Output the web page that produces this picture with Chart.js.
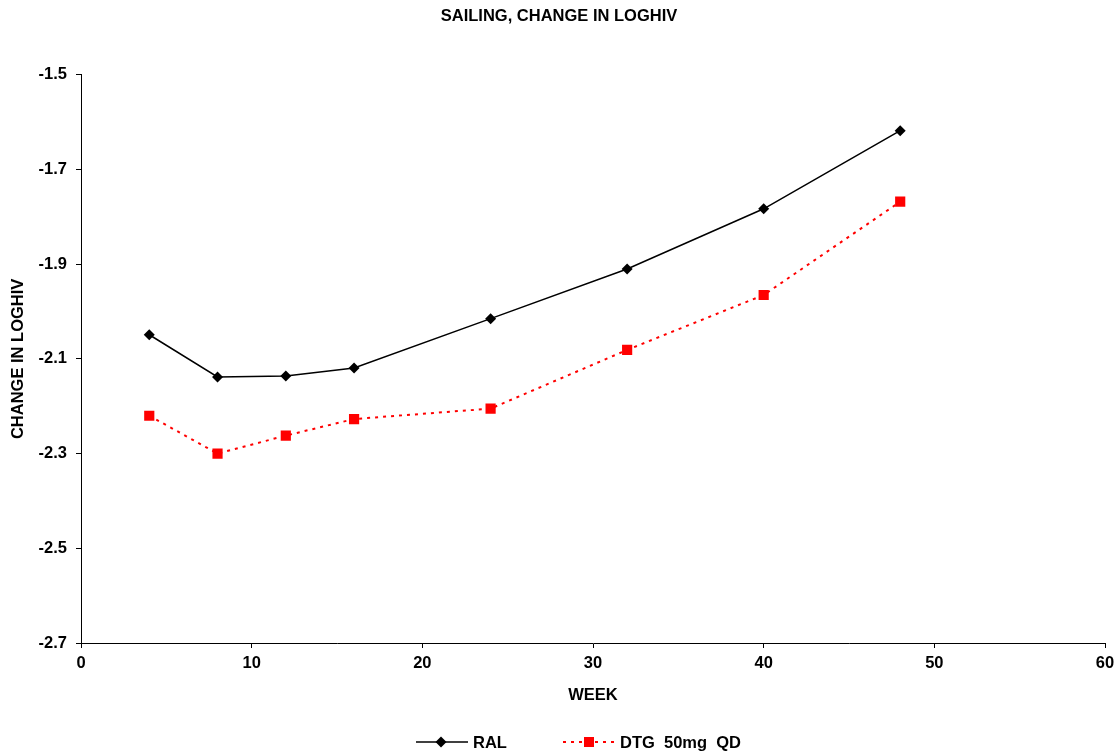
<!DOCTYPE html>
<html>
<head>
<meta charset="utf-8">
<script src="https://cdn.jsdelivr.net/npm/chart.js@4/dist/chart.umd.min.js"></script>
<style>
  html, body { margin: 0; padding: 0; background: #fff; }
  #wrap { position: relative; width: 1118px; height: 754px; }
  #c { position: absolute; left: 0; top: 0; }
  .leg { position: absolute; top: 731px; height: 22px; display: flex; align-items: center;
         font: bold 16.5px "Liberation Sans", Arial, sans-serif; color: #000; white-space: pre; }
  .leg svg { margin-right: 5px; }
</style>
</head>
<body>
<div id="wrap">
  <canvas id="c" width="1118" height="754"></canvas>
  <div class="leg" style="left:416px;">
    <svg width="52" height="22"><line x1="0" y1="11" x2="52" y2="11" stroke="#000" stroke-width="1.5"/><polygon points="25,5.5 30.5,11 25,16.5 19.5,11" fill="#000"/></svg><span>RAL</span>
  </div>
  <div class="leg" style="left:563px;">
    <svg width="52" height="22"><line x1="0" y1="11" x2="52" y2="11" stroke="#f00" stroke-width="2" stroke-dasharray="3,5"/><rect x="21" y="6" width="10" height="10" fill="#f00"/></svg><span>DTG  50mg  QD</span>
  </div>
</div>
<script>
const weeks = [4, 8, 12, 16, 24, 32, 40, 48];
const ralValues = [-2.049, -2.138, -2.136, -2.119, -2.015, -1.910, -1.783, -1.618];
const dtgValues = [-2.220, -2.300, -2.262, -2.227, -2.205, -2.081, -1.965, -1.768];
const xTicks = [0, 10, 20, 30, 40, 50, 60];
const yTicks = [-2.7, -2.5, -2.3, -2.1, -1.9, -1.7, -1.5];

const FONT = '"Liberation Sans", Arial, sans-serif';
const FS = 16.5;
const pts = (vals) => weeks.map((w, i) => ({ x: w, y: vals[i] }));

new Chart(document.getElementById('c'), {
  type: 'line',
  data: {
    datasets: [
      {
        label: 'RAL',
        data: pts(ralValues),
        borderColor: '#000',
        backgroundColor: '#000',
        borderWidth: 1.5,
        pointStyle: 'rectRot',
        pointRadius: 5.5,
        pointBorderWidth: 0,
        tension: 0
      },
      {
        label: 'DTG  50mg  QD',
        data: pts(dtgValues),
        borderColor: '#f00',
        backgroundColor: '#f00',
        borderWidth: 2,
        borderDash: [3, 5],
        pointStyle: 'rect',
        pointRadius: 7.2,
        pointBorderWidth: 0,
        tension: 0
      }
    ]
  },
  options: {
    responsive: false,
    animation: false,
    layout: { padding: { left: 0, right: 0, top: 0, bottom: 0 } },
    plugins: {
      legend: { display: false },
      tooltip: { enabled: false },
      title: {
        display: true,
        text: 'SAILING, CHANGE IN LOGHIV',
        color: '#000',
        font: { family: FONT, size: FS, weight: 'bold', lineHeight: 1.2 },
        padding: { top: 7, bottom: 48 }
      }
    },
    scales: {
      x: {
        type: 'linear',
        min: 0, max: 60,
        afterBuildTicks: (s) => { s.ticks = xTicks.map(v => ({ value: v })); },
        afterFit: (s) => { s.height = 111; s.paddingRight = 13; s.paddingLeft = 0; },
        grid: { display: true, drawOnChartArea: false, drawTicks: true, tickLength: 5, color: '#000', lineWidth: 1 },
        border: { display: true, color: '#000', width: 1 },
        ticks: { color: '#000', padding: 6, maxRotation: 0, font: { family: FONT, size: FS, weight: 'bold' },
                 callback: (v) => String(v) },
        title: { display: true, text: 'WEEK', color: '#000',
                 font: { family: FONT, size: FS, weight: 'bold', lineHeight: 1.2 },
                 padding: { top: 0, bottom: 49 } }
      },
      y: {
        type: 'linear',
        min: -2.7, max: -1.5,
        afterBuildTicks: (s) => { s.ticks = yTicks.map(v => ({ value: v })); },
        afterFit: (s) => { s.width = 81; },
        grid: { display: true, drawOnChartArea: false, drawTicks: true, tickLength: 5, color: '#000', lineWidth: 1 },
        border: { display: true, color: '#000', width: 1 },
        ticks: { color: '#000', padding: 9, font: { family: FONT, size: FS, weight: 'bold' },
                 callback: (v) => Number(v).toFixed(1) },
        title: { display: true, text: 'CHANGE IN LOGHIV', color: '#000',
                 font: { family: FONT, size: FS, weight: 'bold', lineHeight: 1.2 },
                 padding: { top: 9, bottom: 0 } }
      }
    }
  }
});
</script>
</body>
</html>
